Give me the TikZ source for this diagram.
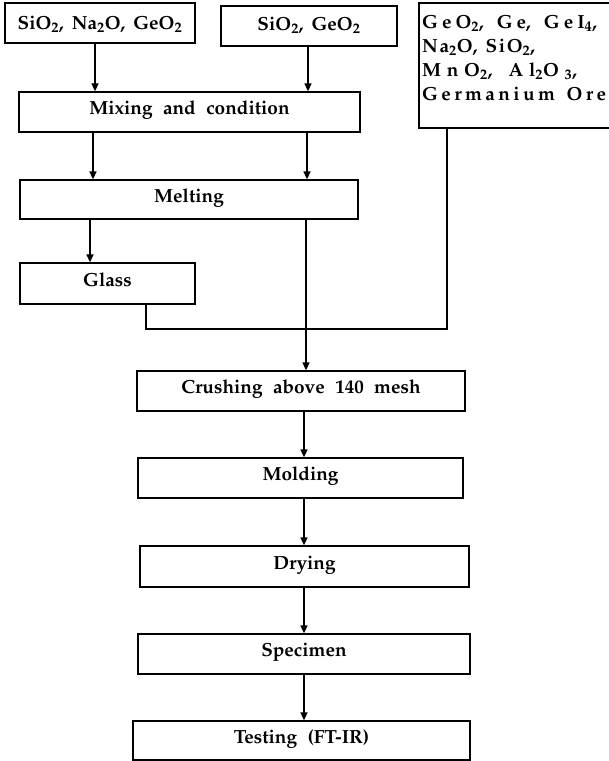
\documentclass[tikz,border=0pt]{standalone}
\usepackage[T1]{fontenc}
\usepackage{mathpazo}
\usetikzlibrary{arrows.meta}
\newcommand\ws{\hspace{0.55em}}
\newcommand\wl{\hfil\ \hfil}
\begin{document}
\begin{tikzpicture}[x=1pt,y=-1pt,
  box/.style={draw,line width=1.3pt,inner sep=0pt,minimum height=40pt,
    font=\fontsize{19}{22}\selectfont\bfseries,text height=14pt,text depth=9pt},
  line/.style={line width=1.5pt},
  arr/.style={line width=1.5pt,-{Triangle[length=8pt,width=7pt]}}]
\useasboundingbox (0,0) rectangle (609,761);
\node[box,minimum width=190pt,text height=15pt,text depth=3pt] (A) at (100,23) {SiO\textsubscript{2},\, Na\textsubscript{2}O,\, GeO\textsubscript{2}};
\node[box,minimum width=176pt,text depth=6pt] (B) at (309,26) {SiO\textsubscript{2},\, GeO\textsubscript{2}};
\node[draw,line width=1.3pt,minimum width=192pt,minimum height=125pt,inner sep=0pt] (C) at (515,65.5) {};
\node[font=\fontsize{19}{24}\selectfont\bfseries,align=left,anchor=base west,inner sep=0pt] (Ct) at (422,100)
 {\makebox[175pt][s]{G\hfil e\hfil O\textsubscript{2},\wl G\hfil e,\wl G\hfil e\hfil I\textsubscript{4},}\\
  \makebox[113pt][s]{N\hfil a\textsubscript{2}O,\wl S\hfil i\hfil O\textsubscript{2},}\\
  \makebox[155pt][s]{M\hfil n\hfil O\textsubscript{2},\wl A\hfil l\textsubscript{2}O\hfil\textsubscript{3},}\\
  \makebox[184pt][s]{G\hfil e\hfil r\hfil m\hfil a\hfil n\hfil i\hfil u\hfil m\wl O\hfil r\hfil e}};
\node[box,minimum width=341pt] (Mix) at (189.5,112) {Mixing\ws and\ws condition};
\node[box,minimum width=338pt,minimum height=39pt] (Melt) at (189,199.5) {Melting};
\node[box,minimum width=175pt,minimum height=41pt] (Glass) at (107.5,283.5) {Glass};
\node[box,minimum width=328pt] (Crush) at (301,391) {Crushing\ws above\ws 140\ws mesh};
\node[box,minimum width=325pt] (Mold) at (300.5,478) {Molding};
\node[box,minimum width=329pt,minimum height=41pt] (Dry) at (304.5,566.5) {Drying};
\node[box,minimum width=332pt] (Spec) at (304,654) {Specimen};
\node[box,minimum width=337pt,minimum height=39pt] (Test) at (301.5,740.5) {Testing\ws (FT-IR)};
\coordinate (jl) at (146,329);
\coordinate (jr) at (447,329);
\draw[arr] (A.south -| 95,0) -- (Mix.north -| 95,0);
\draw[arr] (B.south -| 308,0) -- (Mix.north -| 308,0);
\draw[arr] (Mix.south -| 93,0) -- (Melt.north -| 93,0);
\draw[arr] (Mix.south -| 307,0) -- (Melt.north -| 307,0);
\draw[arr] (Melt.south -| 90,0) -- (Glass.north -| 90,0);
\draw[arr] (Melt.south -| 306,0) -- (Crush.north -| 306,0);
\draw[line] (Glass.south -| jl) -- (jl) -- (jr) -- (C.south -| jr);
\draw[arr] (Crush.south -| 304,0) -- (Mold.north -| 304,0);
\draw[arr] (Mold.south -| 304,0) -- (Dry.north -| 304,0);
\draw[arr] (Dry.south -| 304,0) -- (Spec.north -| 304,0);
\draw[arr] (Spec.south -| 304,0) -- (Test.north -| 304,0);
\end{tikzpicture}
\end{document}
